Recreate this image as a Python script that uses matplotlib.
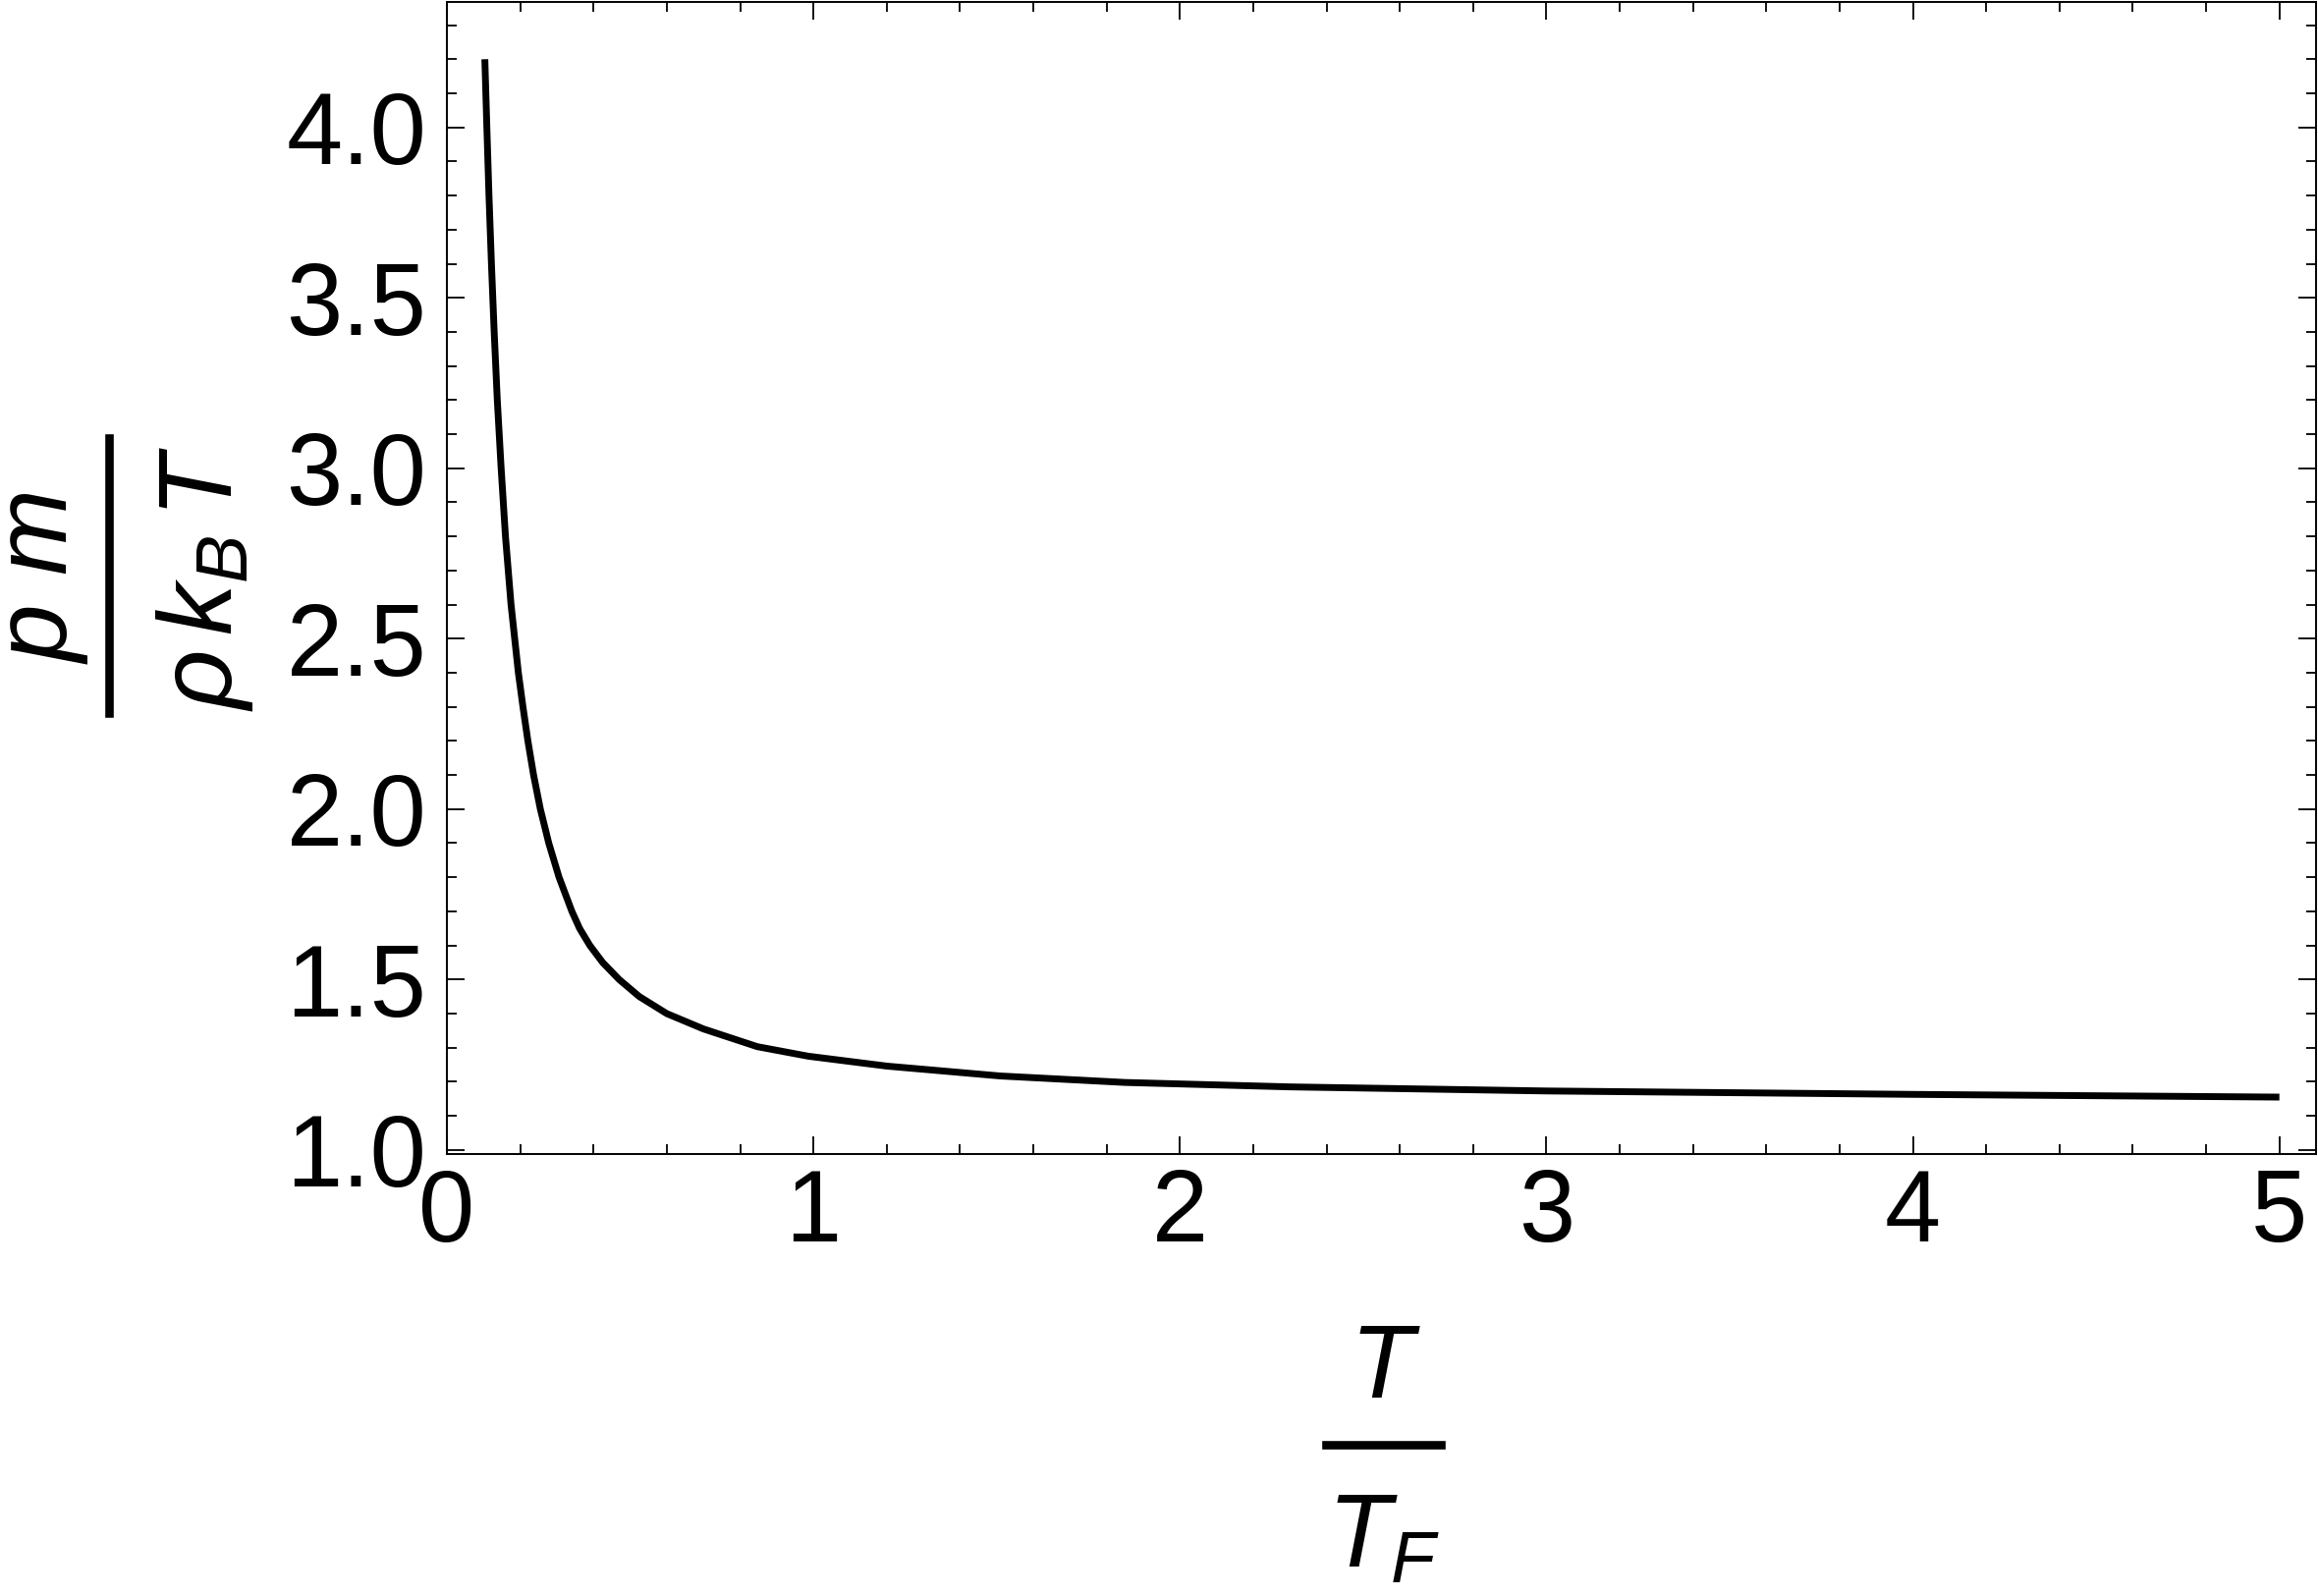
import matplotlib
matplotlib.use("Agg")
import matplotlib.pyplot as plt
from matplotlib.lines import Line2D
from matplotlib.ticker import MultipleLocator, FormatStrFormatter

plt.rcParams['font.family'] = ['Liberation Sans', 'DejaVu Sans']
plt.rcParams['mathtext.fontset'] = 'custom'
plt.rcParams['mathtext.it'] = 'Liberation Sans:italic'
plt.rcParams['mathtext.rm'] = 'Liberation Sans'

# values
t_ratio = [0.1035, 0.109, 0.1148, 0.1215, 0.129, 0.1375, 0.148, 0.1598,
           0.175, 0.195, 0.2075, 0.221, 0.2365, 0.255, 0.278, 0.306, 0.341,
           0.362, 0.39, 0.425, 0.47, 0.525, 0.60, 0.70, 0.847, 0.986,
           1.20, 1.51, 1.85, 2.30, 3.00, 4.00, 5.00]
pressure_ratio = [4.20, 4.00, 3.80, 3.60, 3.40, 3.20, 3.00, 2.80,
                  2.60, 2.40, 2.30, 2.20, 2.10, 2.00, 1.90, 1.80, 1.70,
                  1.65, 1.60, 1.55, 1.50, 1.45, 1.40, 1.355, 1.303, 1.275,
                  1.246, 1.217, 1.198, 1.185, 1.173, 1.163, 1.155]

W, H = 2360, 1625
fig = plt.figure(figsize=(W / 100, H / 100), dpi=100)
ax = fig.add_axes([455 / W, 1 - 1175 / H, (2358 - 455) / W, (1175 - 2) / H])

ax.plot(t_ratio, pressure_ratio, color='black', lw=5.0,
        solid_capstyle='butt', solid_joinstyle='round')

ax.set_xlim(0, 5.10)
ax.set_ylim(0.988, 4.368)
ax.xaxis.set_major_locator(MultipleLocator(1))
ax.xaxis.set_minor_locator(MultipleLocator(0.2))
ax.yaxis.set_major_locator(MultipleLocator(0.5))
ax.yaxis.set_minor_locator(MultipleLocator(0.1))
ax.yaxis.set_major_formatter(FormatStrFormatter('%.1f'))

ax.tick_params(which='both', direction='in', top=True, right=True,
               width=1.3, labelsize=74, colors='black')
ax.tick_params(which='major', length=13)
ax.tick_params(which='minor', length=7.5)
ax.tick_params(axis='y', pad=15)
ax.tick_params(axis='x', pad=10)
for s in ax.spines.values():
    s.set_linewidth(1.4)


def px(x, y):
    return x / W, 1 - y / H


# y label: p m / (rho k_B T), rotated
fs = 76
fig.text(*px(68, 588), r'$p\ m$', rotation=90, rotation_mode='anchor',
         ha='center', va='baseline', fontsize=fs)
fig.text(*px(236, 589), r'$\rho\,k_B\,T$', rotation=90, rotation_mode='anchor',
         ha='center', va='baseline', fontsize=fs)
fig.add_artist(Line2D([110.5 / W, 110.5 / W], [1 - 446 / H, 1 - 726 / H],
                      transform=fig.transFigure, color='black', lw=6.2))

# x label: T / T_F
fig.text(*px(1410, 1423), r'$T$', ha='center', va='baseline', fontsize=fs)
fig.text(*px(1409, 1595), r'$T_F$', ha='center', va='baseline', fontsize=fs)
fig.add_artist(Line2D([1350 / W, 1467 / W], [1 - 1471 / H, 1 - 1471 / H],
                      transform=fig.transFigure, color='black', lw=6.2))

fig.savefig('out.png', dpi=100, facecolor='white')
